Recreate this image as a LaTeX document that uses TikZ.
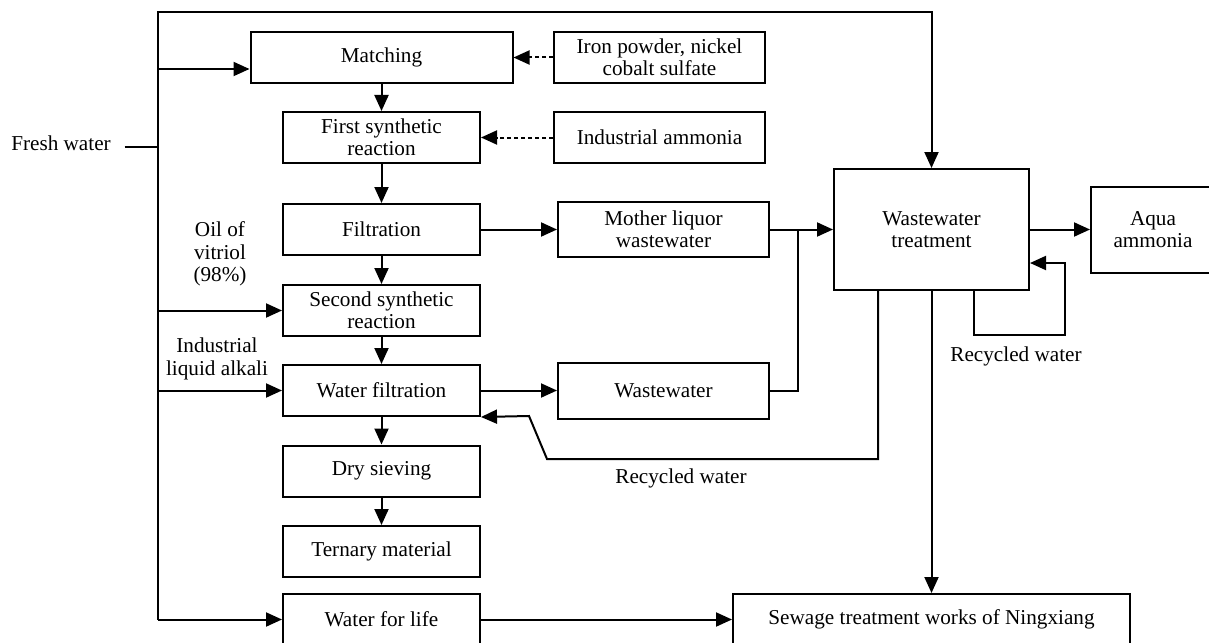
\documentclass[tikz,border=0pt]{standalone}
\usepackage{fontspec}
\setmainfont{Liberation Serif}
\usetikzlibrary{arrows.meta}

\tikzset{
    box/.style={draw, inner sep=0pt, align=center, minimum width=98.5pt, minimum height=25.5pt},
    side/.style={box, minimum width=105.5pt},
    lbl/.style={inner sep=0pt, align=center},
    feed/.style={->, dash pattern=on 2pt off 1.5pt}
}

\begin{document}
\begin{tikzpicture}[>={Triangle[length=8pt,width=7pt]}, x=0.5pt, y=-0.5pt,
    line width=1pt, font=\fontsize{10.6}{11.2}\selectfont]
    \useasboundingbox (0,0) rectangle (1209,642);
    \node [box, minimum width=131pt] (match) at (381.5,57.5) {Matching};
    \node [side] (iron) at (659.5,57.5) {Iron powder, nickel\\cobalt sulfate};
    \node [box] (syn1) at (381.5,137.5) {First synthetic\\reaction};
    \node [side] (ammonia) at (659.5,137.5) {Industrial ammonia};
    \node [box] (filt) at (381.5,229.5) {Filtration};
    \node [side, minimum height=27.5pt] (mother) at (663.5,229.5) {Mother liquor\\wastewater};
    \node [box] (syn2) at (381.5,310.5) {Second synthetic\\reaction};
    \node [box] (wfilt) at (381.5,390.5) {Water filtration};
    \node [side, minimum height=28pt] (wastew) at (663.5,390.5) {Wastewater};
    \node [box] (dry) at (381.5,471) {Dry sieving};
    \node [box] (tern) at (381.5,551.5) {Ternary material};
    \node [box] (life) at (381.5,619.5) {Water for life};
    \node [box, minimum width=97.5pt, minimum height=60.5pt] (wtreat) at (931.5,229.5) {Wastewater\\treatment};
    \node [box, minimum width=62pt, minimum height=43pt] (aqua) at (1153,229.5) {Aqua\\ammonia};
    \node [box, minimum width=198.5pt] (sewage) at (931.5,619.5) {Sewage treatment works of Ningxiang};
    \node [lbl] (fresh) at (61,143) {Fresh water};
    \node [lbl] (oil) at (220,254) {Oil of\\vitriol\\(98\%)};
    \node [lbl] (alkali) at (217,359) {Industrial\\liquid alkali};
    \node [lbl] (rec1) at (681,478) {Recycled water};
    \node [lbl] (rec2) at (1016,356) {Recycled water};
    \coordinate (top) at (158,12);
    \coordinate (fw) at (158,147);
    \coordinate (bot) at (158,619.5);
    \coordinate (m) at ([yshift=-5.75pt]match.west);
    \coordinate (join) at (798,229.5);
    \coordinate (rl) at (974,335);
    \coordinate (rr) at (1065,263);
    \coordinate (ra) at (878,459);
    \coordinate (rb) at (547,459);
    \coordinate (rc) at (529,416);
    \draw ([xshift=6.5pt,yshift=-2pt]fresh.east) -- (fw);
    \draw [->] (bot) -- (top) -| (wtreat);
    \draw [->] (top |- m) -- (m);
    \foreach \n in {syn2, wfilt, life} \draw [->] (top |- \n.west) -- (\n);
    \foreach \a/\b in {match/syn1, syn1/filt, filt/syn2, syn2/wfilt, wfilt/dry, dry/tern}
    \draw [->] (\a) -- (\b);
    \draw [feed] (iron) -- (match);
    \draw [feed] (ammonia) -- (syn1);
    \draw [->] (filt) -- (mother);
    \draw [->] (wfilt) -- (wastew);
    \draw (wastew) -| (join);
    \draw [->] (mother) -- (wtreat);
    \draw [->] (wtreat) -- (aqua);
    \draw [->] (wtreat.south -| rl) -- (rl) -| (rr) -- (wtreat.east |- rr);
    \draw [->] (wtreat.south -| ra) -- (ra) -- (rb) -- (rc) -- (wfilt.south east);
    \draw [->] (wtreat) -- (sewage);
    \draw [->] (life) -- (sewage);
\end{tikzpicture}
\end{document}
